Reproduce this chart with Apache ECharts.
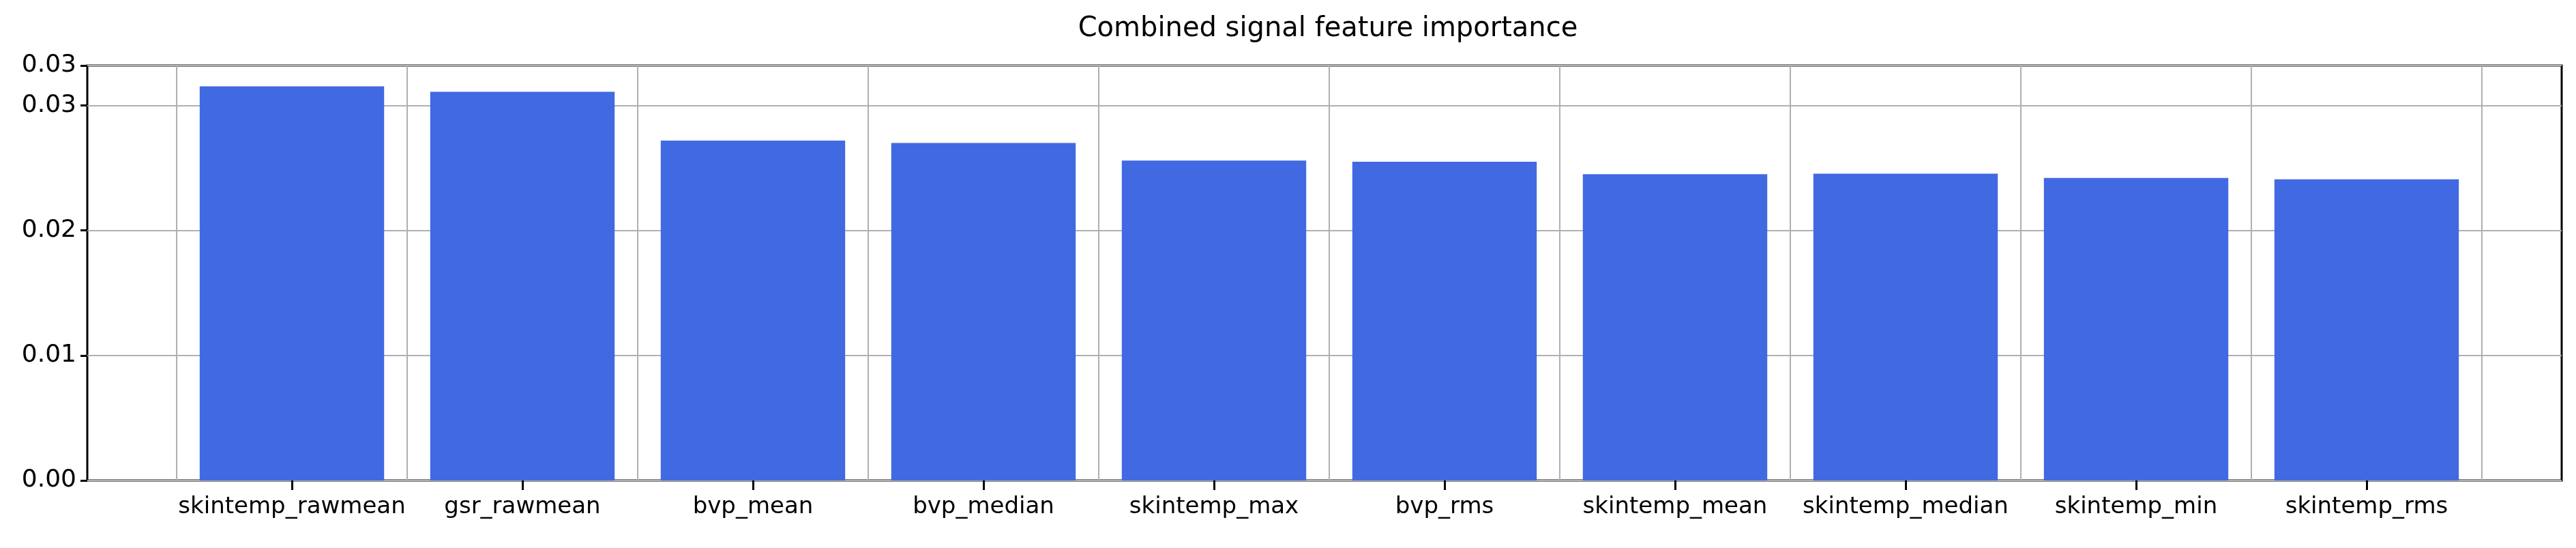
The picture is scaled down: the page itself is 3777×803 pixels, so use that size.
<!DOCTYPE html>
<html>
<head>
<meta charset="utf-8">
<script src="https://cdn.jsdelivr.net/npm/echarts@6/dist/echarts.min.js"></script>
<style>html,body{margin:0;padding:0;background:#fff}#main{width:3777px;height:803px}</style>
</head>
<body>
<div id="main"></div>
<script>
var features = ['skintemp_rawmean', 'gsr_rawmean', 'bvp_mean', 'bvp_median', 'skintemp_max',
  'bvp_rms', 'skintemp_mean', 'skintemp_median', 'skintemp_min', 'skintemp_rms'];
var importance = [0.03153, 0.0311, 0.0272, 0.0270, 0.0256, 0.0255, 0.0245, 0.02455, 0.0242, 0.0241];
var yTicks = [0, 0.01, 0.02, 0.03];

var myChart = echarts.init(document.getElementById('main'));
var font = 'DejaVu Sans';
var yMax = 0.0332;

var option = {
  animation: false,
  title: {
    text: 'Combined signal feature importance',
    left: 1942,
    textAlign: 'center',
    top: 18,
    textStyle: { fontFamily: font, fontSize: 40, fontWeight: 'normal', color: '#000' }
  },
  grid: [
    // frame + y gridlines
    { left: 128, right: 21, top: 96, bottom: 99, show: true, borderColor: '#000', borderWidth: 3 },
    // bars
    { left: 259, right: 138, top: 96, bottom: 99 }
  ],
  xAxis: [
    { gridIndex: 0, type: 'value', min: 0, max: 1, show: false },
    {
      gridIndex: 1, type: 'category', data: features,
      axisLine: { show: false },
      axisTick: { show: true, alignWithLabel: true, length: 14, lineStyle: { color: '#000', width: 3 } },
      axisLabel: { interval: 0, fontFamily: font, fontSize: 34, color: '#000', margin: 22 },
      splitLine: { show: true, lineStyle: { color: '#b0b0b0', width: 2 } }
    }
  ],
  yAxis: [
    {
      gridIndex: 0, type: 'value', min: 0, max: yMax, interval: 0.01,
      axisLine: { show: false },
      axisTick: { show: true, length: 10, lineStyle: { color: '#000', width: 3 } },
      axisLabel: {
        fontFamily: font, fontSize: 36, color: '#000', margin: 16,
        formatter: function (v) {
          return yTicks.indexOf(Math.round(v * 100) / 100) >= 0 ? v.toFixed(2) : '';
        }
      },
      splitLine: { show: true, lineStyle: { color: '#b0b0b0', width: 2 } }
    },
    { gridIndex: 1, type: 'value', min: 0, max: yMax, show: false }
  ],
  series: [{
    type: 'bar',
    xAxisIndex: 1,
    yAxisIndex: 1,
    data: importance,
    barWidth: '80%',
    itemStyle: { color: '#4169e1' },
    z: 1
  }]
};

myChart.setOption(option);
</script>
</body>
</html>
